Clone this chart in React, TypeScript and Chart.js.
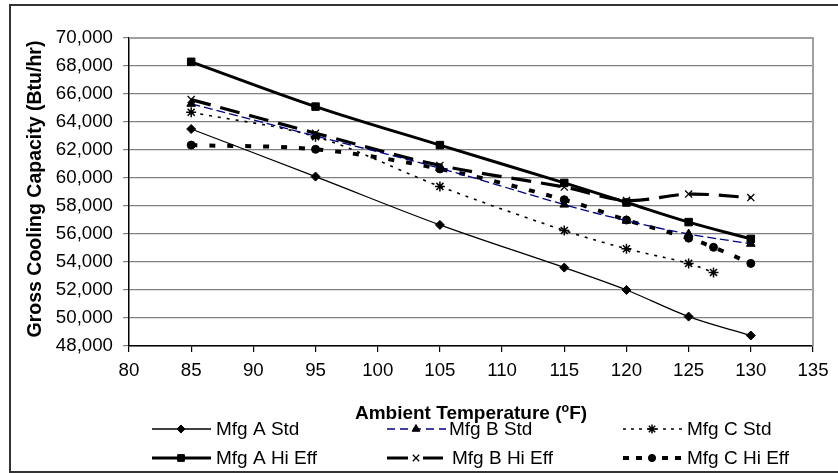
import React, { useEffect, useRef } from 'react';
import { Chart, registerables } from 'chart.js';
import { drawPoint } from 'chart.js/helpers';

Chart.register(...registerables);

// ---- data ----
const tempsAB = [85, 95, 105, 115, 120, 125, 130];
const tempsCStd = [85, 95, 105, 115, 120, 125, 127];
const tempsCHi = [85, 95, 105, 115, 120, 125, 127, 130];

const mfgAStd = [63500, 60100, 56650, 53600, 52000, 50100, 48750];
const mfgAHiEff = [68300, 65100, 62350, 59650, 58250, 56850, 55650];
const mfgBStd = [65300, 63000, 60700, 58100, 56950, 56000, 55300];
const mfgBHiEff = [65600, 63200, 60900, 59350, 58400, 58850, 58600];
const mfgCStd = [64700, 62950, 59400, 56250, 54950, 53900, 53250];
const mfgCHiEff = [62350, 62050, 60650, 58450, 57000, 55700, 55050, 53900];

const seriesLabels = ['Mfg A Std', 'Mfg B Std', 'Mfg C Std', 'Mfg A Hi Eff', 'Mfg B Hi Eff', 'Mfg C Hi Eff'];

const xMin = 80;
const xMax = 135;
const xStep = 5;
const yMin = 48000;
const yMax = 70000;
const yStep = 2000;

const xTitle = 'Ambient Temperature (';
const xTitleSup = 'o';
const xTitleEnd = 'F)';
const yTitle = 'Gross Cooling Capacity (Btu/hr)';

const FONT = '"Liberation Sans", Arial, sans-serif';

type Style = {
  color: string;
  width: number;
  dash: number[];
  legendDash: number[];
  point: string;
  radius: number;
  pointBorder: number;
  textOffset: number;
};

const styles: Style[] = [
  { color: '#000000', width: 1.3, dash: [], legendDash: [], point: 'rectRot', radius: 4.5, pointBorder: 1, textOffset: 64 },
  { color: '#000080', width: 1.3, dash: [9, 4], legendDash: [8, 5], point: 'triangle', radius: 5, pointBorder: 1, textOffset: 62 },
  { color: '#000000', width: 1.6, dash: [3, 6], legendDash: [3, 5], point: 'star', radius: 5, pointBorder: 1.5, textOffset: 64 },
  { color: '#000000', width: 3, dash: [], legendDash: [], point: 'rect', radius: 5.3, pointBorder: 1, textOffset: 64 },
  { color: '#000000', width: 3.2, dash: [20, 10], legendDash: [21, 15, 20, 10], point: 'crossRot', radius: 5, pointBorder: 1.3, textOffset: 65 },
  { color: '#000000', width: 4, dash: [6, 12], legendDash: [6, 7], point: 'circle', radius: 4, pointBorder: 1, textOffset: 64 },
];

const seriesX = [tempsAB, tempsAB, tempsCStd, tempsAB, tempsAB, tempsCHi];
const seriesY = [mfgAStd, mfgBStd, mfgCStd, mfgAHiEff, mfgBHiEff, mfgCHiEff];

const decorPlugin = {
  id: 'decor',
  beforeDatasetsDraw(chart: any) {
    const { ctx, chartArea: a } = chart;
    ctx.save();
    ctx.strokeStyle = '#a0a0a0';
    ctx.lineWidth = 2;
    ctx.beginPath();
    ctx.moveTo(a.left, a.top);
    ctx.lineTo(a.right, a.top);
    ctx.lineTo(a.right, a.bottom);
    ctx.stroke();
    ctx.restore();
  },
  afterDraw(chart: any) {
    const { ctx, chartArea: a } = chart;
    ctx.save();
    // outer border
    ctx.strokeStyle = '#333333';
    ctx.lineWidth = 2;
    ctx.strokeRect(10, 5, 840, 467);

    ctx.fillStyle = '#000';
    // y title
    ctx.save();
    ctx.font = `bold 19.5px ${FONT}`;
    ctx.translate(36, (a.top + a.bottom) / 2 - 3);
    ctx.rotate(-Math.PI / 2);
    ctx.textAlign = 'center';
    ctx.textBaseline = 'middle';
    ctx.fillText(yTitle, 0, 0);
    ctx.restore();

    // x title with superscript
    const big = `bold 19px ${FONT}`;
    const small = `bold 12.5px ${FONT}`;
    ctx.font = big;
    const w1 = ctx.measureText(xTitle).width;
    const w3 = ctx.measureText(xTitleEnd).width;
    ctx.font = small;
    const w2 = ctx.measureText(xTitleSup).width;
    const total = w1 + w2 + w3;
    const cx = (a.left + a.right) / 2;
    let tx = cx - total / 2;
    const ty = 419;
    ctx.textAlign = 'left';
    ctx.textBaseline = 'alphabetic';
    ctx.font = big;
    ctx.fillText(xTitle, tx, ty);
    tx += w1;
    ctx.font = small;
    ctx.fillText(xTitleSup, tx, ty - 7);
    tx += w2;
    ctx.font = big;
    ctx.fillText(xTitleEnd, tx, ty);

    // legend
    const colX = [152, 387, 623];
    const rowY = [429, 458];
    seriesLabels.forEach((label, i) => {
      const s = styles[i];
      const col = i % 3;
      const row = Math.floor(i / 3);
      const x0 = colX[col];
      const y = rowY[row];
      ctx.save();
      ctx.strokeStyle = s.color;
      ctx.lineWidth = s.width;
      ctx.setLineDash(s.legendDash);
      ctx.beginPath();
      ctx.moveTo(x0, y);
      ctx.lineTo(x0 + 59, y);
      ctx.stroke();
      ctx.setLineDash([]);
      ctx.fillStyle = '#000';
      ctx.strokeStyle = '#000';
      ctx.lineWidth = s.pointBorder;
      drawPoint(ctx, { pointStyle: s.point as any, radius: s.radius * 0.9, rotation: 0, borderWidth: s.pointBorder }, x0 + 29, y);
      ctx.restore();
      ctx.fillStyle = '#000';
      ctx.font = `19px ${FONT}`;
      ctx.textAlign = 'left';
      ctx.textBaseline = 'middle';
      ctx.fillText(label, x0 + s.textOffset, y + 1);
    });
    ctx.restore();
  },
};

export default function App() {
  const ref = useRef<HTMLCanvasElement | null>(null);
  useEffect(() => {
    if (!ref.current) return;
    const datasets = seriesLabels.map((label, i) => {
      const s = styles[i];
      return {
        label,
        data: seriesX[i].map((x, j) => ({ x, y: seriesY[i][j] })),
        borderColor: s.color,
        borderWidth: s.width,
        borderDash: s.dash,
        tension: 0.35,
        pointStyle: s.point,
        pointRadius: s.radius,
        pointBackgroundColor: '#000',
        pointBorderColor: '#000',
        pointBorderWidth: s.pointBorder,
        fill: false,
      };
    });
    const chart = new Chart(ref.current, {
      type: 'line',
      data: { datasets: datasets as any },
      options: {
        animation: false,
        responsive: false,
        layout: { padding: { top: 38, right: 25, left: 0, bottom: 0 } },
        plugins: { legend: { display: false }, tooltip: { enabled: false } },
        scales: {
          x: {
            type: 'linear',
            min: xMin,
            max: xMax,
            ticks: {
              stepSize: xStep,
              color: '#000',
              font: { family: FONT, size: 18.7 },
              padding: 8,
              maxRotation: 0,
            },
            grid: { drawOnChartArea: false, drawTicks: true, tickLength: 6, color: '#000', lineWidth: 1.2 },
            border: { color: '#000', width: 1.5 },
            afterFit: (scale: any) => {
              scale.height = 127;
            },
          },
          y: {
            type: 'linear',
            min: yMin,
            max: yMax,
            ticks: {
              stepSize: yStep,
              color: '#000',
              font: { family: FONT, size: 18.7 },
              padding: 10,
              callback: (v: any) => Number(v).toLocaleString('en-US'),
            },
            grid: { color: '#808080', lineWidth: 1.2, drawTicks: true, tickLength: 6 },
            border: { color: '#000', width: 1.5 },
            afterFit: (scale: any) => {
              scale.width = 129;
            },
          },
        },
      },
      plugins: [decorPlugin],
    });
    return () => chart.destroy();
  }, []);
  return (
    <div style={{ position: 'absolute', left: 0, top: 0, width: 838, height: 473, background: '#fff' }}>
      <canvas ref={ref} width={838} height={473} style={{ display: 'block' }} />
    </div>
  );
}
